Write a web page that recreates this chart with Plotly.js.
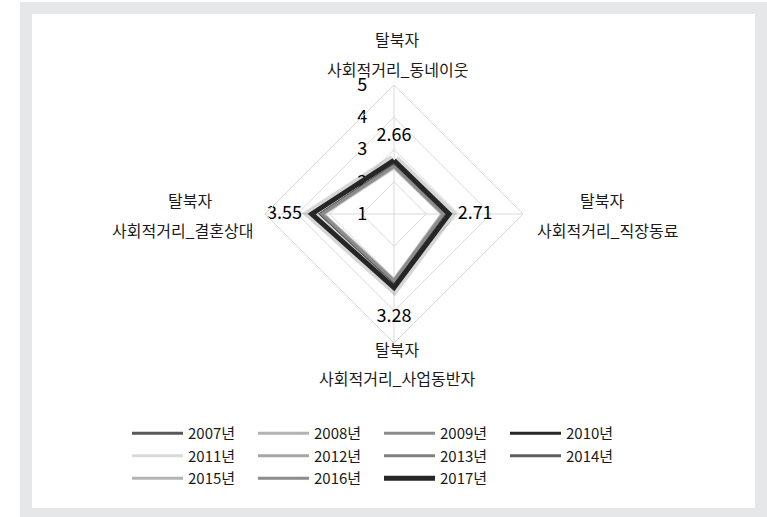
<!DOCTYPE html>
<html>
<head>
<meta charset="utf-8">
<script src="https://cdn.plot.ly/plotly-3.0.1.min.js"></script>
<style>
  body { margin: 0; background: #ffffff; }
  #frame { position: absolute; left: 20px; top: 2px; width: 747px; height: 515px; background: #e6e7e8; }
  #panel { position: absolute; left: 32px; top: 14px; width: 723px; height: 494px; background: #ffffff; }
  #graph { position: absolute; left: 0; top: 0; width: 767px; height: 517px; }
</style>
</head>
<body>
<div id="frame"></div>
<div id="panel"></div>
<div id="graph"></div>
<script>
// 축 이름 (위, 오른쪽, 아래, 왼쪽 순서)
const groupName = "탈북자"
const categories = ["사회적거리_동네이웃", "사회적거리_직장동료", "사회적거리_사업동반자", "사회적거리_결혼상대"]
const years = ["2007년", "2008년", "2009년", "2010년", "2011년", "2012년", "2013년", "2014년", "2015년", "2016년", "2017년"]

const v2007 = [2.50, 2.55, 3.10, 3.26]
const v2008 = [2.45, 2.50, 3.05, 3.20]
const v2009 = [2.48, 2.52, 3.08, 3.22]
const v2010 = [2.51, 2.55, 3.11, 3.27]
const v2011 = [2.42, 2.48, 3.02, 3.18]
const v2012 = [2.47, 2.50, 3.06, 3.21]
const v2013 = [2.49, 2.53, 3.09, 3.24]
const v2014 = [2.51, 2.55, 3.11, 3.27]
const v2015 = [2.46, 2.51, 3.05, 3.20]
const v2016 = [2.48, 2.53, 3.07, 3.23]
const v2017 = [2.66, 2.71, 3.28, 3.55]

const series = [v2007, v2008, v2009, v2010, v2011, v2012, v2013, v2014, v2015, v2016, v2017]
const colors = ["#595959", "#b3b3b3", "#8c8c8c", "#262626", "#d9d9d9", "#a6a6a6", "#808080", "#5f5f5f", "#b3b3b3", "#8c8c8c", "#262626"]

const radialTicks = [1, 2, 3, 4, 5]

const FONT = "Noto Sans CJK KR, Noto Sans, sans-serif"

// 닫힌 다각형을 위해 첫 점을 끝에 다시 붙임
function closed(arr) {
  return arr.concat([arr[0]])
}

const theta = closed(categories)
const data = []

// 2017년 선 그림자
data.push({
  type: "scatterpolar",
  r: closed(v2017),
  theta: theta,
  mode: "lines",
  line: { color: "rgba(0,0,0,0.16)", width: 12 },
  showlegend: false,
  hoverinfo: "skip",
})

series.forEach(function (vals, i) {
  const last = i === series.length - 1
  const trace = {
    type: "scatterpolar",
    r: closed(vals),
    theta: theta,
    name: years[i],
    mode: "lines",
    line: { color: colors[i], width: last ? 5 : 3 },
  }
  if (last) {
    trace.mode = "lines+markers+text"
    trace.text = closed(vals.map(function (v) { return v.toFixed(2) }))
    trace.text[trace.text.length - 1] = ""
    trace.textposition = ["top center", "middle right", "bottom center", "middle left", "top center"]
    trace.textfont = { family: FONT, size: 18, color: "#000000" }
    trace.marker = { size: [22, 12, 32, 14, 0], color: "rgba(0,0,0,0)", line: { width: 0 } }
  }
  data.push(trace)
})

// 픽셀 좌표 -> paper 좌표
const W = 767, H = 517, ML = 100, MR = 87
const PW = W - ML - MR
function px(x) { return (x - ML) / PW }
function py(y) { return (H - y) / H }

const labelPos = [
  [397, 39, 397, 69],
  [602, 200, 607, 230],
  [397, 349, 397, 378],
  [190, 200, 182, 230],
]
const annotations = []
categories.forEach(function (c, i) {
  const p = labelPos[i]
  const base = { xref: "paper", yref: "paper", xanchor: "center", yanchor: "middle", showarrow: false, font: { family: FONT, size: 16, color: "#1a1a1a" } }
  annotations.push(Object.assign({}, base, { x: px(p[0]), y: py(p[1]), text: groupName }))
  annotations.push(Object.assign({}, base, { x: px(p[2]), y: py(p[3]), text: c }))
})

const cx = 394, cy = 214, R = 129
const layout = {
  width: W,
  height: H,
  margin: { l: ML, r: MR, t: 0, b: 0 },
  paper_bgcolor: "rgba(0,0,0,0)",
  font: { family: FONT, color: "#222" },
  showlegend: true,
  polar: {
    domain: { x: [px(cx - R), px(cx + R)], y: [py(cy + R), py(cy - R)] },
    gridshape: "linear",
    bgcolor: "rgba(0,0,0,0)",
    angularaxis: {
      type: "category",
      categoryarray: categories,
      rotation: 90,
      direction: "clockwise",
      showticklabels: false,
      ticks: "",
      linecolor: "#d9d9d9",
      gridcolor: "#d9d9d9",
      linewidth: 1,
    },
    radialaxis: {
      range: [1, 5],
      tickvals: radialTicks,
      angle: 90,
      side: "counterclockwise",
      showline: false,
      gridcolor: "#d9d9d9",
      ticks: "outside",
      ticklen: 20,
      tickcolor: "rgba(0,0,0,0)",
      tickangle: 90,
      tickfont: { family: FONT, size: 18, color: "#000" },
      layer: "below traces",
    },
  },
  legend: {
    orientation: "h",
    x: px(127),
    xanchor: "left",
    y: py(417),
    yanchor: "top",
    bgcolor: "rgba(0,0,0,0)",
    itemwidth: 51,
    entrywidth: 60,
    entrywidthmode: "pixels",
    font: { family: FONT, size: 15, color: "#1a1a1a" },
    traceorder: "normal",
  },
  annotations: annotations,
}

Plotly.newPlot("graph", data, layout, { displayModeBar: false })
</script>
</body>
</html>
